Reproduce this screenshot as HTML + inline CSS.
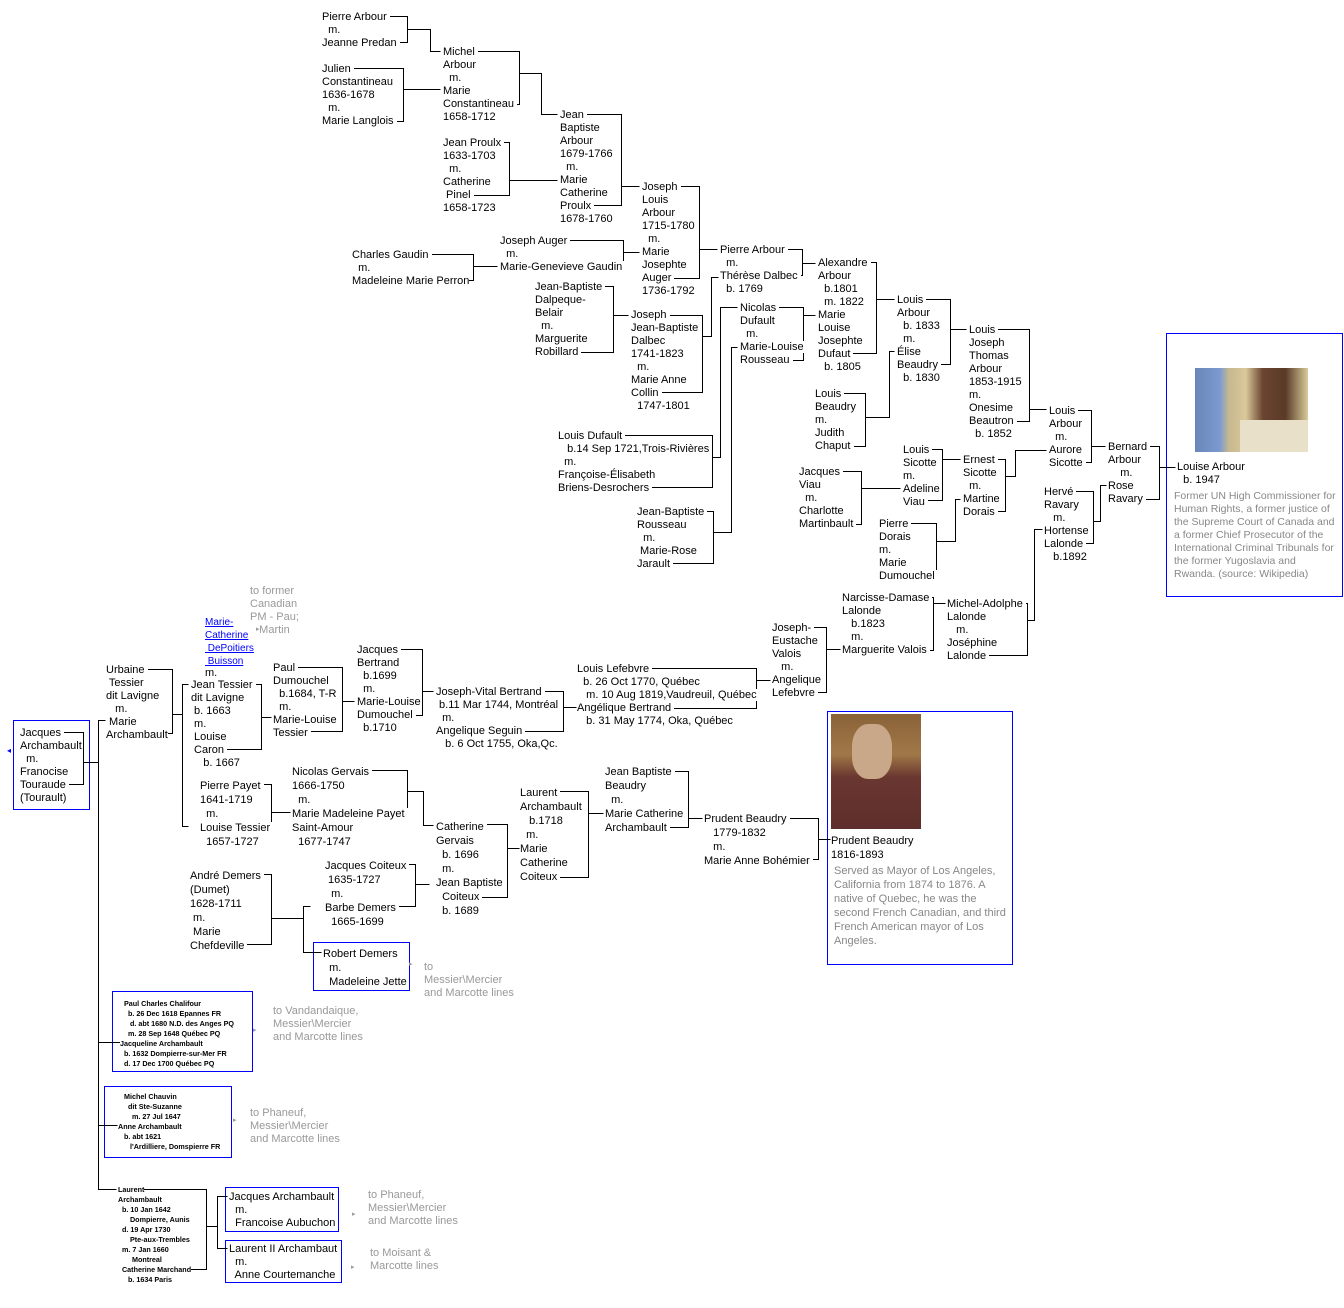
<!DOCTYPE html>
<html><head><meta charset="utf-8"><style>
body{margin:0;background:#fff;width:1344px;height:1308px;position:relative;overflow:hidden;font-family:"Liberation Sans",sans-serif}
.b{position:absolute;white-space:pre;font-size:11px;line-height:13px;color:#000;margin-top:2px}
.b span{background:#fff}
.l14{line-height:14px}
.g{position:absolute;white-space:pre;font-size:11px;line-height:13px;color:#999;margin-top:2px}
.s{position:absolute;white-space:pre;font-size:7.2px;font-weight:bold;line-height:10px;color:#000;margin-top:2px}
.s span{background:#fff}
.box{position:absolute;border:1px solid #00f}
.ar{position:absolute;font-size:7px;color:#999}
svg{position:absolute;left:0;top:0}
</style></head><body>
<div class="box" style="left:13px;top:720px;width:75px;height:88px"></div>
<div class="box" style="left:313px;top:942px;width:95px;height:47px"></div>
<div class="box" style="left:112px;top:991px;width:139px;height:79px"></div>
<div class="box" style="left:104px;top:1086px;width:126px;height:70px"></div>
<div class="box" style="left:225px;top:1187px;width:112px;height:43px"></div>
<div class="box" style="left:225px;top:1240px;width:115px;height:41px"></div>
<div class="box" style="left:1166px;top:333px;width:175px;height:262px"></div>
<div class="box" style="left:827px;top:711px;width:184px;height:252px"></div>
<div style="position:absolute;left:1195px;top:368px;width:113px;height:84px;background:linear-gradient(90deg,#6a86b8 0,#7c9ad0 22%,#c8b890 30%,#d8c89a 45%,#6a4430 60%,#5a3a28 80%,#d8cc98 100%)"></div>
<div style="position:absolute;left:1240px;top:420px;width:68px;height:32px;background:#e8e0c8"></div>
<div style="position:absolute;left:831px;top:714px;width:90px;height:115px;background:linear-gradient(180deg,#8a6238 0,#a07848 35%,#6a3630 55%,#5e2e2c 100%)"></div>
<div style="position:absolute;left:852px;top:724px;width:40px;height:55px;background:#c8a888;border-radius:40%"></div>
<svg width="1344" height="1308" shape-rendering="crispEdges"><g fill="none" stroke="#000" stroke-width="1" transform="translate(0.5,0.5)">
<path d="M322,16H407V42H322M407,29H430V51H440"/>
<path d="M322,68H403V121H322M403,89H440"/>
<path d="M443,51H519V104H443M519,73H541V114H557"/>
<path d="M443,142H509V195H443M509,180H557"/>
<path d="M560,114H621V205H560M621,186H639"/>
<path d="M500,240H623V266H500M623,252H639"/>
<path d="M352,254H473V280H352M473,266H497"/>
<path d="M535,286H613V352H535M613,315H628"/>
<path d="M642,186H699V278H642M699,249H717"/>
<path d="M631,315H702V392H631M702,336H711V277H718"/>
<path d="M720,249H802V275H720M802,263H815"/>
<path d="M740,307H803V360H740M803,315H815"/>
<path d="M558,435H712V487H558M712,457H720V307H737"/>
<path d="M637,511H713V563H637M713,532H731V347H737"/>
<path d="M818,262H876V353H818M876,299H894"/>
<path d="M815,393H865V446H815M865,417H889V351H894"/>
<path d="M897,299H950V364H897M950,329H966"/>
<path d="M969,329H1029V421H969M1029,409H1046"/>
<path d="M903,449H942V500H903M942,459H960"/>
<path d="M799,471H861V524H799M861,488H900"/>
<path d="M879,523H936V576H879M936,541H955V499H960"/>
<path d="M963,459H1005V511H963M1005,476H1015V450H1046"/>
<path d="M1049,410H1091V462H1049M1091,446H1105"/>
<path d="M1044,491H1093V543H1044M1093,521H1100V485H1106"/>
<path d="M1108,446H1159V499H1108M1159,467H1175"/>
<path d="M842,597H933V650H842M933,603H945"/>
<path d="M947,603H1027V655H947M1027,620H1034V529H1042"/>
<path d="M772,627H826V692H772M826,649H840"/>
<path d="M577,668H756V708H577M756,680H770"/>
<path d="M436,691H563V731H436M563,707H576"/>
<path d="M357,649H422V715H357M422,691H433"/>
<path d="M273,667H342V731H273M342,701H354"/>
<path d="M191,684H261V749H191M261,717H271"/>
<path d="M106,669H172V733H106M172,714H182M188,684H182V826H188"/>
<path d="M20,732H83V784H20M83,762H98M105,720H98V1189H116M98,1042H121M98,1125H117"/>
<path d="M200,784H271V826H200M271,812H290"/>
<path d="M292,770H407V812H292M407,791H423V825H433"/>
<path d="M190,874H271V944H190M271,918H303M310,906H303V952H321"/>
<path d="M325,864H415V906H325M415,884H429"/>
<path d="M436,824H507V897H436M507,848H519"/>
<path d="M520,791H588V877H520M588,813H603"/>
<path d="M605,771H688V827H605M688,818H702"/>
<path d="M704,818H818V859H704M818,839H830"/>
<path d="M118,1189H206V1269H118M206,1226H217M227,1196H217V1248H227"/>
</g></svg>

<div class="b" style="left:322px;top:9px"><span>Pierre Arbour 
  m.
Jeanne Predan </span></div>
<div class="b" style="left:322px;top:61px"><span>Julien 
Constantineau
1636-1678
  m.
Marie Langlois </span></div>
<div class="b" style="left:443px;top:44px"><span>Michel 
Arbour
  m.
Marie
Constantineau 
1658-1712</span></div>
<div class="b" style="left:443px;top:135px"><span>Jean Proulx 
1633-1703
  m.
Catherine
 Pinel 
1658-1723</span></div>
<div class="b" style="left:560px;top:107px"><span>Jean 
Baptiste
Arbour
1679-1766
  m.
Marie
Catherine
Proulx 
1678-1760</span></div>
<div class="b" style="left:642px;top:179px"><span>Joseph 
Louis
Arbour
1715-1780
  m.
Marie
Josephte
Auger 
1736-1792</span></div>
<div class="b" style="left:500px;top:233px"><span>Joseph Auger 
  m.
Marie-Genevieve Gaudin </span></div>
<div class="b" style="left:352px;top:247px"><span>Charles Gaudin 
  m.
Madeleine Marie Perron</span></div>
<div class="b" style="left:535px;top:279px"><span>Jean-Baptiste 
Dalpeque-
Belair
  m.
Marguerite
Robillard </span></div>
<div class="b" style="left:631px;top:307px"><span>Joseph 
Jean-Baptiste
Dalbec
1741-1823
  m.
Marie Anne
Collin 
  1747-1801</span></div>
<div class="b" style="left:720px;top:242px"><span>Pierre Arbour 
  m.
Thérèse Dalbec 
  b. 1769</span></div>
<div class="b" style="left:740px;top:300px"><span>Nicolas 
Dufault
  m.
Marie-Louise
Rousseau </span></div>
<div class="b" style="left:818px;top:255px"><span>Alexandre 
Arbour
  b.1801
  m. 1822
Marie
Louise
Josephte
Dufaut 
  b. 1805</span></div>
<div class="b" style="left:897px;top:292px"><span>Louis 
Arbour
  b. 1833
  m.
Élise
Beaudry 
  b. 1830</span></div>
<div class="b" style="left:815px;top:386px"><span>Louis 
Beaudry
m.
Judith
Chaput </span></div>
<div class="b" style="left:558px;top:428px"><span>Louis Dufault 
   b.14 Sep 1721,Trois-Rivières
  m.
Françoise-Élisabeth
Briens-Desrochers </span></div>
<div class="b" style="left:637px;top:504px"><span>Jean-Baptiste 
Rousseau
  m.
 Marie-Rose
Jarault </span></div>
<div class="b" style="left:969px;top:322px"><span>Louis 
Joseph
Thomas
Arbour
1853-1915
m.
Onesime
Beautron 
  b. 1852</span></div>
<div class="b" style="left:1049px;top:403px"><span>Louis 
Arbour
  m.
Aurore
Sicotte </span></div>
<div class="b" style="left:903px;top:442px"><span>Louis 
Sicotte
m.
Adeline
Viau </span></div>
<div class="b" style="left:799px;top:464px"><span>Jacques 
Viau
  m.
Charlotte
Martinbault </span></div>
<div class="b" style="left:963px;top:452px"><span>Ernest 
Sicotte
  m.
Martine
Dorais </span></div>
<div class="b" style="left:879px;top:516px"><span>Pierre 
Dorais
m.
Marie
Dumouchel </span></div>
<div class="b" style="left:1108px;top:439px"><span>Bernard 
Arbour
    m.
Rose
Ravary </span></div>
<div class="b" style="left:1044px;top:484px"><span>Hervé 
Ravary
   m.
Hortense
Lalonde 
   b.1892</span></div>
<div class="b" style="left:842px;top:590px"><span>Narcisse-Damase 
Lalonde
   b.1823
   m.
Marguerite Valois </span></div>
<div class="b" style="left:947px;top:596px"><span>Michel-Adolphe 
Lalonde
   m.
Joséphine
Lalonde </span></div>
<div class="b" style="left:772px;top:620px"><span>Joseph- 
Eustache
Valois
   m.
Angelique
Lefebvre </span></div>
<div class="b" style="left:577px;top:661px"><span>Louis Lefebvre 
  b. 26 Oct 1770, Québec
   m. 10 Aug 1819,Vaudreuil, Québec 
Angélique Bertrand 
   b. 31 May 1774, Oka, Québec</span></div>
<div class="b" style="left:436px;top:684px"><span>Joseph-Vital Bertrand 
 b.11 Mar 1744, Montréal
  m.
Angelique Seguin 
   b. 6 Oct 1755, Oka,Qc.</span></div>
<div class="b" style="left:357px;top:642px"><span>Jacques 
Bertrand
  b.1699
  m.
Marie-Louise
Dumouchel 
  b.1710</span></div>
<div class="b" style="left:273px;top:660px"><span>Paul 
Dumouchel
  b.1684, T-R
  m.
Marie-Louise
Tessier </span></div>
<div class="b" style="left:106px;top:662px"><span>Urbaine 
 Tessier
dit Lavigne
   m.
 Marie
Archambault</span></div>
<div class="b" style="left:191px;top:677px"><span>Jean Tessier 
dit Lavigne
 b. 1663
 m.
 Louise
 Caron 
    b. 1667</span></div>
<div style="position:absolute;left:205px;top:616px;font-size:10px;line-height:13px;color:#00f;white-space:pre;text-decoration:underline">Marie-
Catherine
 DePoitiers
 Buisson</div>
<div class="b" style="left:205px;top:665px">m.</div>
<div class="g" style="left:250px;top:583px">to former
Canadian
PM - Pau;
   Martin</div>
<div class="ar" style="left:256px;top:625px">▸</div>
<div style="position:absolute;left:7px;top:746px;font-size:8px;color:#00f">◂</div>
<div class="b" style="left:20px;top:725px"><span>Jacques 
Archambault
  m.
Franocise
Touraude 
(Tourault)</span></div>
<div class="b l14" style="left:200px;top:777px"><span>Pierre Payet 
1641-1719
  m.
Louise Tessier 
  1657-1727</span></div>
<div class="b l14" style="left:292px;top:763px"><span>Nicolas Gervais 
1666-1750
  m.
Marie Madeleine Payet 
Saint-Amour
  1677-1747</span></div>
<div class="b l14" style="left:436px;top:818px"><span>Catherine 
Gervais
  b. 1696
  m.
Jean Baptiste
  Coiteux 
  b. 1689</span></div>
<div class="b l14" style="left:520px;top:784px"><span>Laurent 
Archambault
   b.1718
  m.
Marie
Catherine
Coiteux </span></div>
<div class="b l14" style="left:605px;top:763px"><span>Jean Baptiste 
Beaudry
  m.
Marie Catherine
Archambault </span></div>
<div class="b l14" style="left:704px;top:810px"><span>Prudent Beaudry 
   1779-1832
   m.
Marie Anne Bohémier </span></div>
<div class="b l14" style="left:190px;top:867px"><span>André Demers 
(Dumet)
1628-1711
 m.
 Marie
Chefdeville </span></div>
<div class="b l14" style="left:325px;top:857px"><span>Jacques Coiteux 
 1635-1727
  m.
Barbe Demers 
  1665-1699</span></div>
<div class="b l14" style="left:323px;top:945px"><span>Robert Demers
  m.
  Madeleine Jette</span></div>
<div class="ar" style="left:409px;top:960px">▸</div>
<div class="g" style="left:424px;top:959px">to
Messier\Mercier
and Marcotte lines</div>
<div class="s" style="left:120px;top:997px"><span>  Paul Charles Chalifour
    b. 26 Dec 1618 Epannes FR
     d. abt 1680 N.D. des Anges PQ
    m. 28 Sep 1648 Québec PQ
Jacqueline Archambault
  b. 1632 Dompierre-sur-Mer FR
  d. 17 Dec 1700 Québec PQ</span></div>
<div class="ar" style="left:253px;top:1026px">▸</div>
<div class="g" style="left:273px;top:1003px">to Vandandaique,
Messier\Mercier
and Marcotte lines</div>
<div class="s" style="left:118px;top:1090px"><span>   Michel Chauvin
     dit Ste-Suzanne
       m. 27 Jul 1647
Anne Archambault
   b. abt 1621
      l'Ardilliere, Domspierre FR</span></div>
<div class="ar" style="left:233px;top:1116px">▸</div>
<div class="g" style="left:250px;top:1105px">to Phaneuf,
Messier\Mercier
and Marcotte lines</div>
<div class="s" style="left:118px;top:1183px"><span>Laurent
Archambault
  b. 10 Jan 1642
      Dompierre, Aunis
  d. 19 Apr 1730
      Pte-aux-Trembles
  m. 7 Jan 1660
       Montreal
  Catherine Marchand
     b. 1634 Paris</span></div>
<div class="b" style="left:229px;top:1189px"><span>Jacques Archambault
  m.
  Francoise Aubuchon</span></div>
<div class="b" style="left:229px;top:1241px"><span>Laurent II Archambaut
  m.
  Anne Courtemanche</span></div>
<div class="ar" style="left:352px;top:1210px">▸</div>
<div class="ar" style="left:351px;top:1263px">▸</div>
<div class="g" style="left:368px;top:1187px">to Phaneuf,
Messier\Mercier
and Marcotte lines</div>
<div class="g" style="left:370px;top:1245px">to Moisant &amp;
Marcotte lines</div>
<div class="b" style="left:1177px;top:459px"><span>Louise Arbour
  b. 1947</span></div>
<div class="g" style="left:1174px;top:488px;font-size:10.5px;color:#888">Former UN High Commissioner for
Human Rights, a former justice of
the Supreme Court of Canada and
a former Chief Prosecutor of the
International Criminal Tribunals for
the former Yugoslavia and
Rwanda. (source: Wikipedia)</div>
<div class="b l14" style="left:831px;top:832px"><span>Prudent Beaudry
1816-1893</span></div>
<div class="g" style="left:834px;top:862px;line-height:14px;color:#888">Served as Mayor of Los Angeles,
California from 1874 to 1876. A
native of Quebec, he was the
second French Canadian, and third
French American mayor of Los
Angeles.</div>
</body></html>
